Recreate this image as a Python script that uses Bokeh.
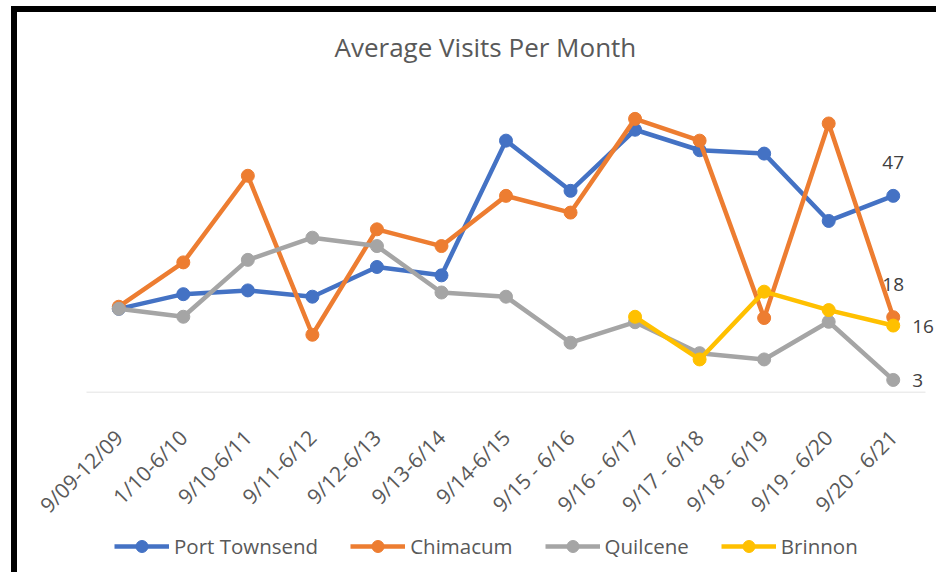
import math
from bokeh.plotting import figure
from bokeh.layouts import column
from bokeh.core.properties import value
from bokeh.transform import dodge
from bokeh.models import ColumnDataSource, FactorRange, Range1d, Legend, LegendItem, LabelSet
from bokeh.embed import file_html
from bokeh.resources import INLINE

categories = ["9/09-12/09", "1/10-6/10", "9/10-6/11", "9/11-6/12", "9/12-6/13",
              "9/13-6/14", "9/14-6/15", "9/15 - 6/16", "9/16 - 6/17", "9/17 - 6/18",
              "9/18 - 6/19", "9/19 - 6/20", "9/20 - 6/21"]
port_townsend = [20.0, 23.5, 24.4, 22.9, 30.0, 28.0, 60.2, 48.2, 62.8, 57.9, 57.1, 41.0, 47]
chimacum = [20.5, 31.1, 51.8, 13.8, 39.0, 35.0, 47.0, 43.0, 65.4, 60.2, 17.8, 64.3, 18]
quilcene = [20.0, 18.1, 31.7, 37.0, 35.0, 23.9, 22.9, 11.9, 16.8, 9.4, 7.9, 16.9, 3]
brinnon_categories = ["9/16 - 6/17", "9/17 - 6/18", "9/18 - 6/19", "9/19 - 6/20", "9/20 - 6/21"]
brinnon = [18.1, 7.9, 24.1, 19.7, 16]

series_names = ["Port Townsend", "Chimacum", "Quilcene", "Brinnon"]
series_colors = ["#4472C4", "#ED7D31", "#A5A5A5", "#FFC000"]
series_x = [categories, categories, categories, brinnon_categories]
series_y = [port_townsend, chimacum, quilcene, brinnon]

FONT = "Open Sans"

p = figure(x_range=FactorRange(*categories, range_padding=0.2325, range_padding_units="absolute"),
           y_range=Range1d(0, 77.2),
           width=925, height=520, output_backend="svg", toolbar_location=None,
           min_border_left=54, min_border_right=2, min_border_top=57, min_border_bottom=140)
p.styles = {"border-left": "6px solid black", "border-top": "6px solid black"}

p.title.text = "Average Visits Per Month"
p.title.align = "left"
p.title.offset = 263
p.title.standoff = 10
p.title.text_font = FONT
p.title.text_font_size = "26px"
p.title.text_font_style = "normal"
p.title.text_color = "#595959"

p.yaxis.visible = False
p.grid.visible = False
p.outline_line_color = None

xa = p.xaxis[0]
xa.major_tick_line_color = None
xa.minor_tick_line_color = None
xa.axis_line_color = None
xa.major_label_orientation = math.pi / 4
xa.major_label_text_font = FONT
xa.major_label_text_font_size = "21px"
xa.major_label_text_color = "#595959"
xa.major_label_standoff = 35

# baseline at zero spanning the category band
base_src = ColumnDataSource(dict(x0=[categories[0]], x1=[categories[-1]], y=[0]))
p.segment(x0=dodge("x0", -0.5, range=p.x_range), x1=dodge("x1", 0.5, range=p.x_range),
          y0="y", y1="y", source=base_src, line_color="#D9D9D9", line_width=1.5)

for name, color, xs, ys in zip(series_names, series_colors, series_x, series_y):
    src = ColumnDataSource(dict(x=xs, y=ys))
    p.line("x", "y", source=src, line_color=color, line_width=4.5, line_join="round")
    p.scatter("x", "y", source=src, size=13, fill_color=color, line_color=color)

# data labels for last points
top_src = ColumnDataSource(dict(x=[categories[-1], categories[-1]],
                                y=[port_townsend[-1], chimacum[-1]],
                                t=[str(round(port_townsend[-1])), str(round(chimacum[-1]))]))
p.add_layout(LabelSet(x="x", y="y", text="t", source=top_src, y_offset=33,
                      text_align="center", text_baseline="middle",
                      text_font=value(FONT), text_font_size=value("19px"), text_color="#404040"))
right_src = ColumnDataSource(dict(x=[brinnon_categories[-1], categories[-1]],
                                  y=[brinnon[-1], quilcene[-1]],
                                  t=[str(round(brinnon[-1])), str(round(quilcene[-1]))]))
p.add_layout(LabelSet(x="x", y="y", text="t", source=right_src, x_offset=19, y_offset=-1,
                      text_align="left", text_baseline="middle",
                      text_font=value(FONT), text_font_size=value("19px"), text_color="#404040"))

# legend strip: the same series drawn outside the visible y window, used as legend glyphs
lg = figure(x_range=FactorRange(*categories), y_range=Range1d(-2, -1), width=925, height=46,
            output_backend="svg", toolbar_location=None, x_axis_type=None, y_axis_type=None,
            min_border=0)
lg.styles = {"border-left": "6px solid black"}
lg.grid.visible = False
lg.outline_line_color = None
items = []
for name, color, xs, ys in zip(series_names, series_colors, series_x, series_y):
    src = ColumnDataSource(dict(x=xs, y=ys))
    lr = lg.line("x", "y", source=src, line_color=color, line_width=4.5)
    sr = lg.scatter("x", "y", source=src, size=13, fill_color=color, line_color=color)
    items.append(LegendItem(label=name, renderers=[lr, sr]))
legend = Legend(items=items, orientation="horizontal", location=(43, 11),
                glyph_width=55, glyph_height=30, label_standoff=5, spacing=32,
                padding=0, margin=0, border_line_color=None, background_fill_alpha=0,
                label_text_font=FONT, label_text_font_size="20.5px",
                label_text_color="#595959")
lg.add_layout(legend)

layout = column(p, lg, spacing=0, width=931, height=572,
                styles={"margin-left": "11px", "margin-top": "6px"})

open("out.html", "w").write(file_html(layout, INLINE))
